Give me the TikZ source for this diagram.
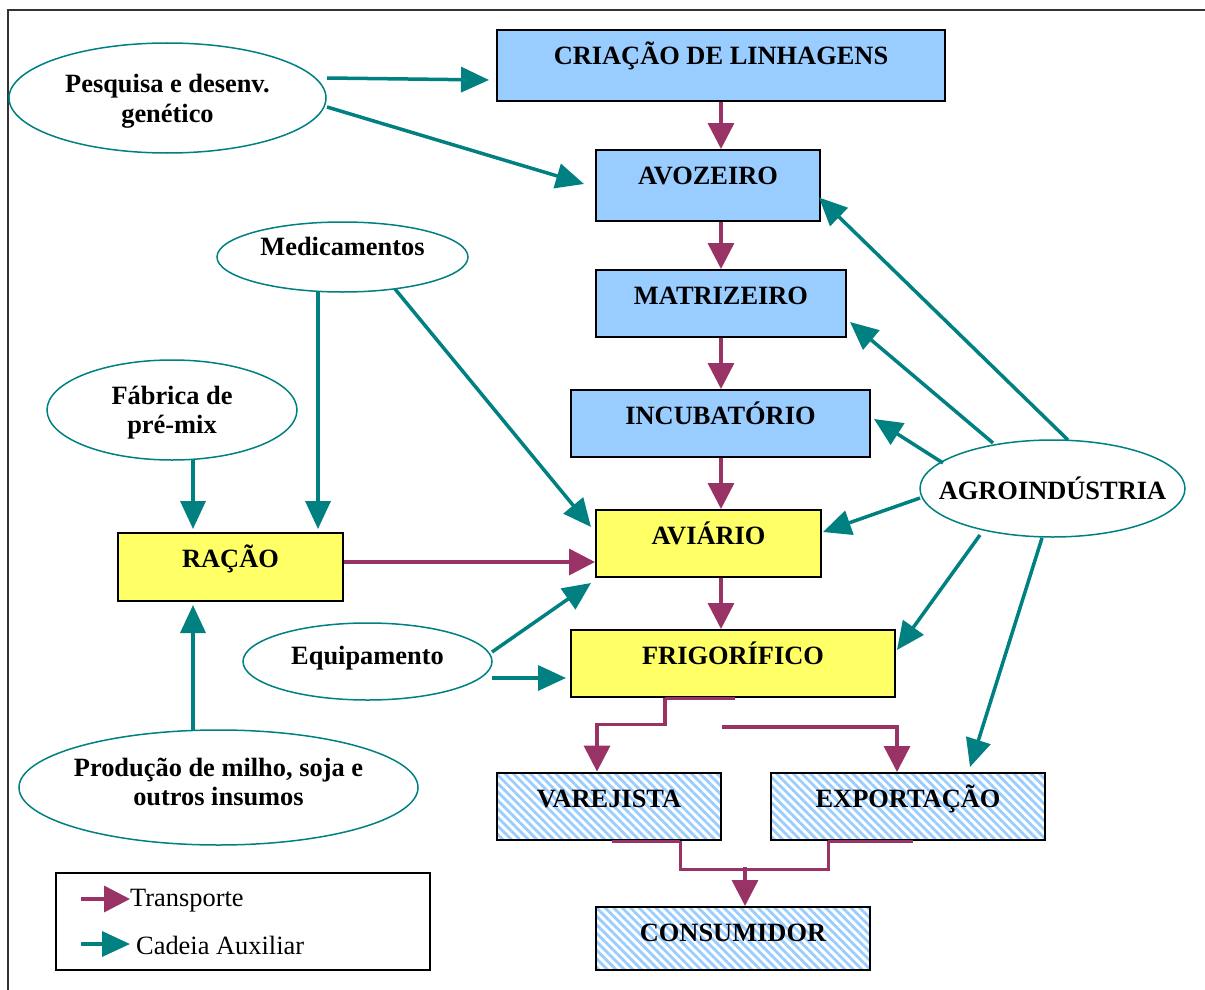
\documentclass[tikz,border=0pt]{standalone}
\usepackage{fontspec}
\setmainfont{Liberation Serif}
\usetikzlibrary{arrows.meta,shapes.geometric,patterns.meta,calc}
\definecolor{boxblue}{HTML}{99CCFF}
\definecolor{boxyellow}{HTML}{FFFF66}
\definecolor{auxteal}{HTML}{008080}
\definecolor{transmag}{HTML}{993366}
\definecolor{hatchblue}{HTML}{99CCFF}
\begin{document}
\begin{tikzpicture}[x=1pt,y=-1pt,
  lbl/.style={font=\fontsize{26.4}{29.5}\selectfont\bfseries, align=center},
  legtext/.style={font=\fontsize{26.4}{29.5}\selectfont, inner sep=0pt},
  stage/.style={lbl, draw=black, line width=2pt, inner xsep=0pt, inner ysep=0pt, text height=34pt, text depth=#1},
  hatch/.style={pattern={Lines[angle=-45,distance=6pt,line width=2.8pt]}, pattern color=hatchblue},
  oval/.style={lbl, ellipse, draw=auxteal, line width=1.5pt, fill=white, inner sep=0pt},
  trans/.style={draw=transmag, line width=3.5pt, -{Triangle[length=26pt,width=26pt]}},
  transline/.style={draw=transmag, line width=3pt},
  aux/.style={draw=auxteal, line width=3.5pt, -{Triangle[length=28pt,width=25pt]}}
]
\useasboundingbox (0,0) rectangle (1205,990);
\draw[line width=2pt, black!80] (8,990) -- (8,10) -- (1205,10);

% stages
\node[stage=37pt, fill=boxblue, minimum width=448pt] (crl) at (721,65.5) {CRIAÇÃO DE LINHAGENS};
\node[stage=37pt, fill=boxblue, minimum width=224pt] (avo) at (708,185.5) {AVOZEIRO};
\node[stage=33pt, fill=boxblue, minimum width=250pt] (mat) at (721,303.5) {MATRIZEIRO};
\node[stage=33pt, fill=boxblue, minimum width=299pt] (inc) at (720.5,423.5) {INCUBATÓRIO};
\node[stage=33pt, fill=boxyellow, minimum width=225pt] (avi) at (708.5,543.5) {AVIÁRIO};
\node[stage=33pt, fill=boxyellow, minimum width=324pt] (fri) at (733,663.5) {FRIGORÍFICO};
\node[stage=34pt, fill=boxyellow, minimum width=225pt] (rac) at (230.5,567) {RAÇÃO};
\node[stage=33pt, hatch, minimum width=224pt] (var) at (609,806.5) {VAREJISTA};
\node[stage=33pt, hatch, minimum width=274pt] (exp) at (908,806.5) {EXPORTAÇÃO};
\node[stage=29pt, hatch, minimum width=274pt] (con) at (733,938.5) {CONSUMIDOR};

% ellipses
\node[oval, minimum width=317pt, minimum height=110pt, text height=54.5pt] (pesq) at (167.5,98) {Pesquisa e desenv.\\genético};
\node[oval, minimum width=251pt, minimum height=70pt, text height=18pt, text depth=21pt] (med) at (342.5,257) {Medicamentos};
\node[oval, minimum width=250pt, minimum height=100pt, text height=53pt] (fab) at (172,410) {Fábrica de\\pré-mix};
\node[oval, minimum width=249pt, minimum height=77pt, text height=18pt, text depth=12.6pt] (equ) at (367.5,661.5) {Equipamento};
\node[oval, minimum width=399pt, minimum height=115pt, inner xsep=-15pt, text depth=11pt] (prod) at (218.5,787.5) {Produção de milho, soja e\\outros insumos};
\node[oval, minimum width=265pt, minimum height=97pt, inner xsep=-30pt] (agro) at (1052.5,488.5) {AGROINDÚSTRIA};

% legend
\node[draw, line width=1.5pt, minimum width=374pt, minimum height=97pt, inner sep=0pt] (leg) at (243,921.5) {};
\node[legtext, anchor=west] (ltr) at (130,901) {Transporte};
\node[legtext, anchor=west] (lca) at (136,945) {Cadeia Auxiliar};
\coordinate (ltrs) at (81,899);
\coordinate (lcas) at (81,944);
\draw[trans] (ltrs) -- (ltrs -| ltr.west);
\draw[aux] (lcas) -- ($(lcas -| lca.west)+(-6,0)$);

% transport chain
\draw[trans] (crl.south) -- (crl.south |- avo.north);
\draw[trans] (mat.north |- avo.south) -- (mat.north);
\draw[trans] (mat.south) -- (mat.south |- inc.north);
\draw[trans] (mat.south |- inc.south) -- (mat.south |- avi.north);
\draw[trans] (mat.south |- avi.south) -- (mat.south |- fri.north);
\draw[trans] ($(rac.east)+(0,-5)$) -- ($(avi.west)+(0,18.5)$);

\draw[transline] ($(fri.south)+(-68,0)$) -- ($(fri.south)+(2,0)$);
\draw[trans] ($(fri.south)+(-68,0)$) |- ($(var.north)+(-12,-47)$) -- ($(var.north)+(-12,0)$);
\draw[trans] ($(fri.south)+(-11,29)$) -| ($(exp.north)+(-11,0)$);

\draw[transline] ($(var.south)+(3,0)$) -- ($(var.south)+(71,0)$);
\draw[transline] ($(var.south)+(71,0)$) |- ($(exp.south)+(-80,28)$) -- ($(exp.south)+(-80,0)$);
\draw[transline] ($(exp.south)+(-80,0)$) -- ($(exp.south)+(5,0)$);
\draw[trans] ($(con.north)+(12,-39)$) -- ($(con.north)+(12,0)$);

% auxiliary chain
\draw[aux] ($(pesq.center)+(159.5,-20)$) -- ($(crl.west)+(-7,14.5)$);
\draw[aux] ($(pesq.center)+(159.5,9)$) -- ($(avo.west)+(-11,-1.5)$);
\draw[aux] ($(med.center)+(-24.5,35)$) -- ($(rac.north)+(87.5,-3)$);
\draw[aux] ($(med.center)+(52.5,32)$) -- ($(avi.north west)+(-4,18)$);
\draw[aux] ($(fab.center)+(21,49)$) -- ($(rac.north)+(-37.5,-3)$);
\draw[aux] ($(prod.center)+(-25.5,-57)$) -- ($(rac.south)+(-37.5,3)$);
\draw[aux] ($(equ.center)+(124.5,-9.5)$) -- ($(avi.south west)+(-4,5)$);
\draw[aux] ($(equ.center)+(124.5,16.5)$) -- ($(fri.west)+(-4,14.5)$);
\draw[aux] ($(agro.center)+(15.5,-48.5)$) -- ($(avo.east)+(-2,12)$);
\draw[aux] ($(agro.center)+(-59.5,-45.5)$) -- ($(mat.east)+(3,18.5)$);
\draw[aux] ($(agro.center)+(-109.5,-25.5)$) -- ($(inc.east)+(3,-4.5)$);
\draw[aux] ($(agro.center)+(-132.5,9.5)$) -- ($(avi.east)+(1,-11.5)$);
\draw[aux] ($(agro.center)+(-72.5,46.5)$) -- ($(fri.east)+(1,-13.5)$);
\draw[aux] ($(agro.center)+(-10.5,49.5)$) -- ($(exp.north)+(62,-5)$);
\end{tikzpicture}
\end{document}
